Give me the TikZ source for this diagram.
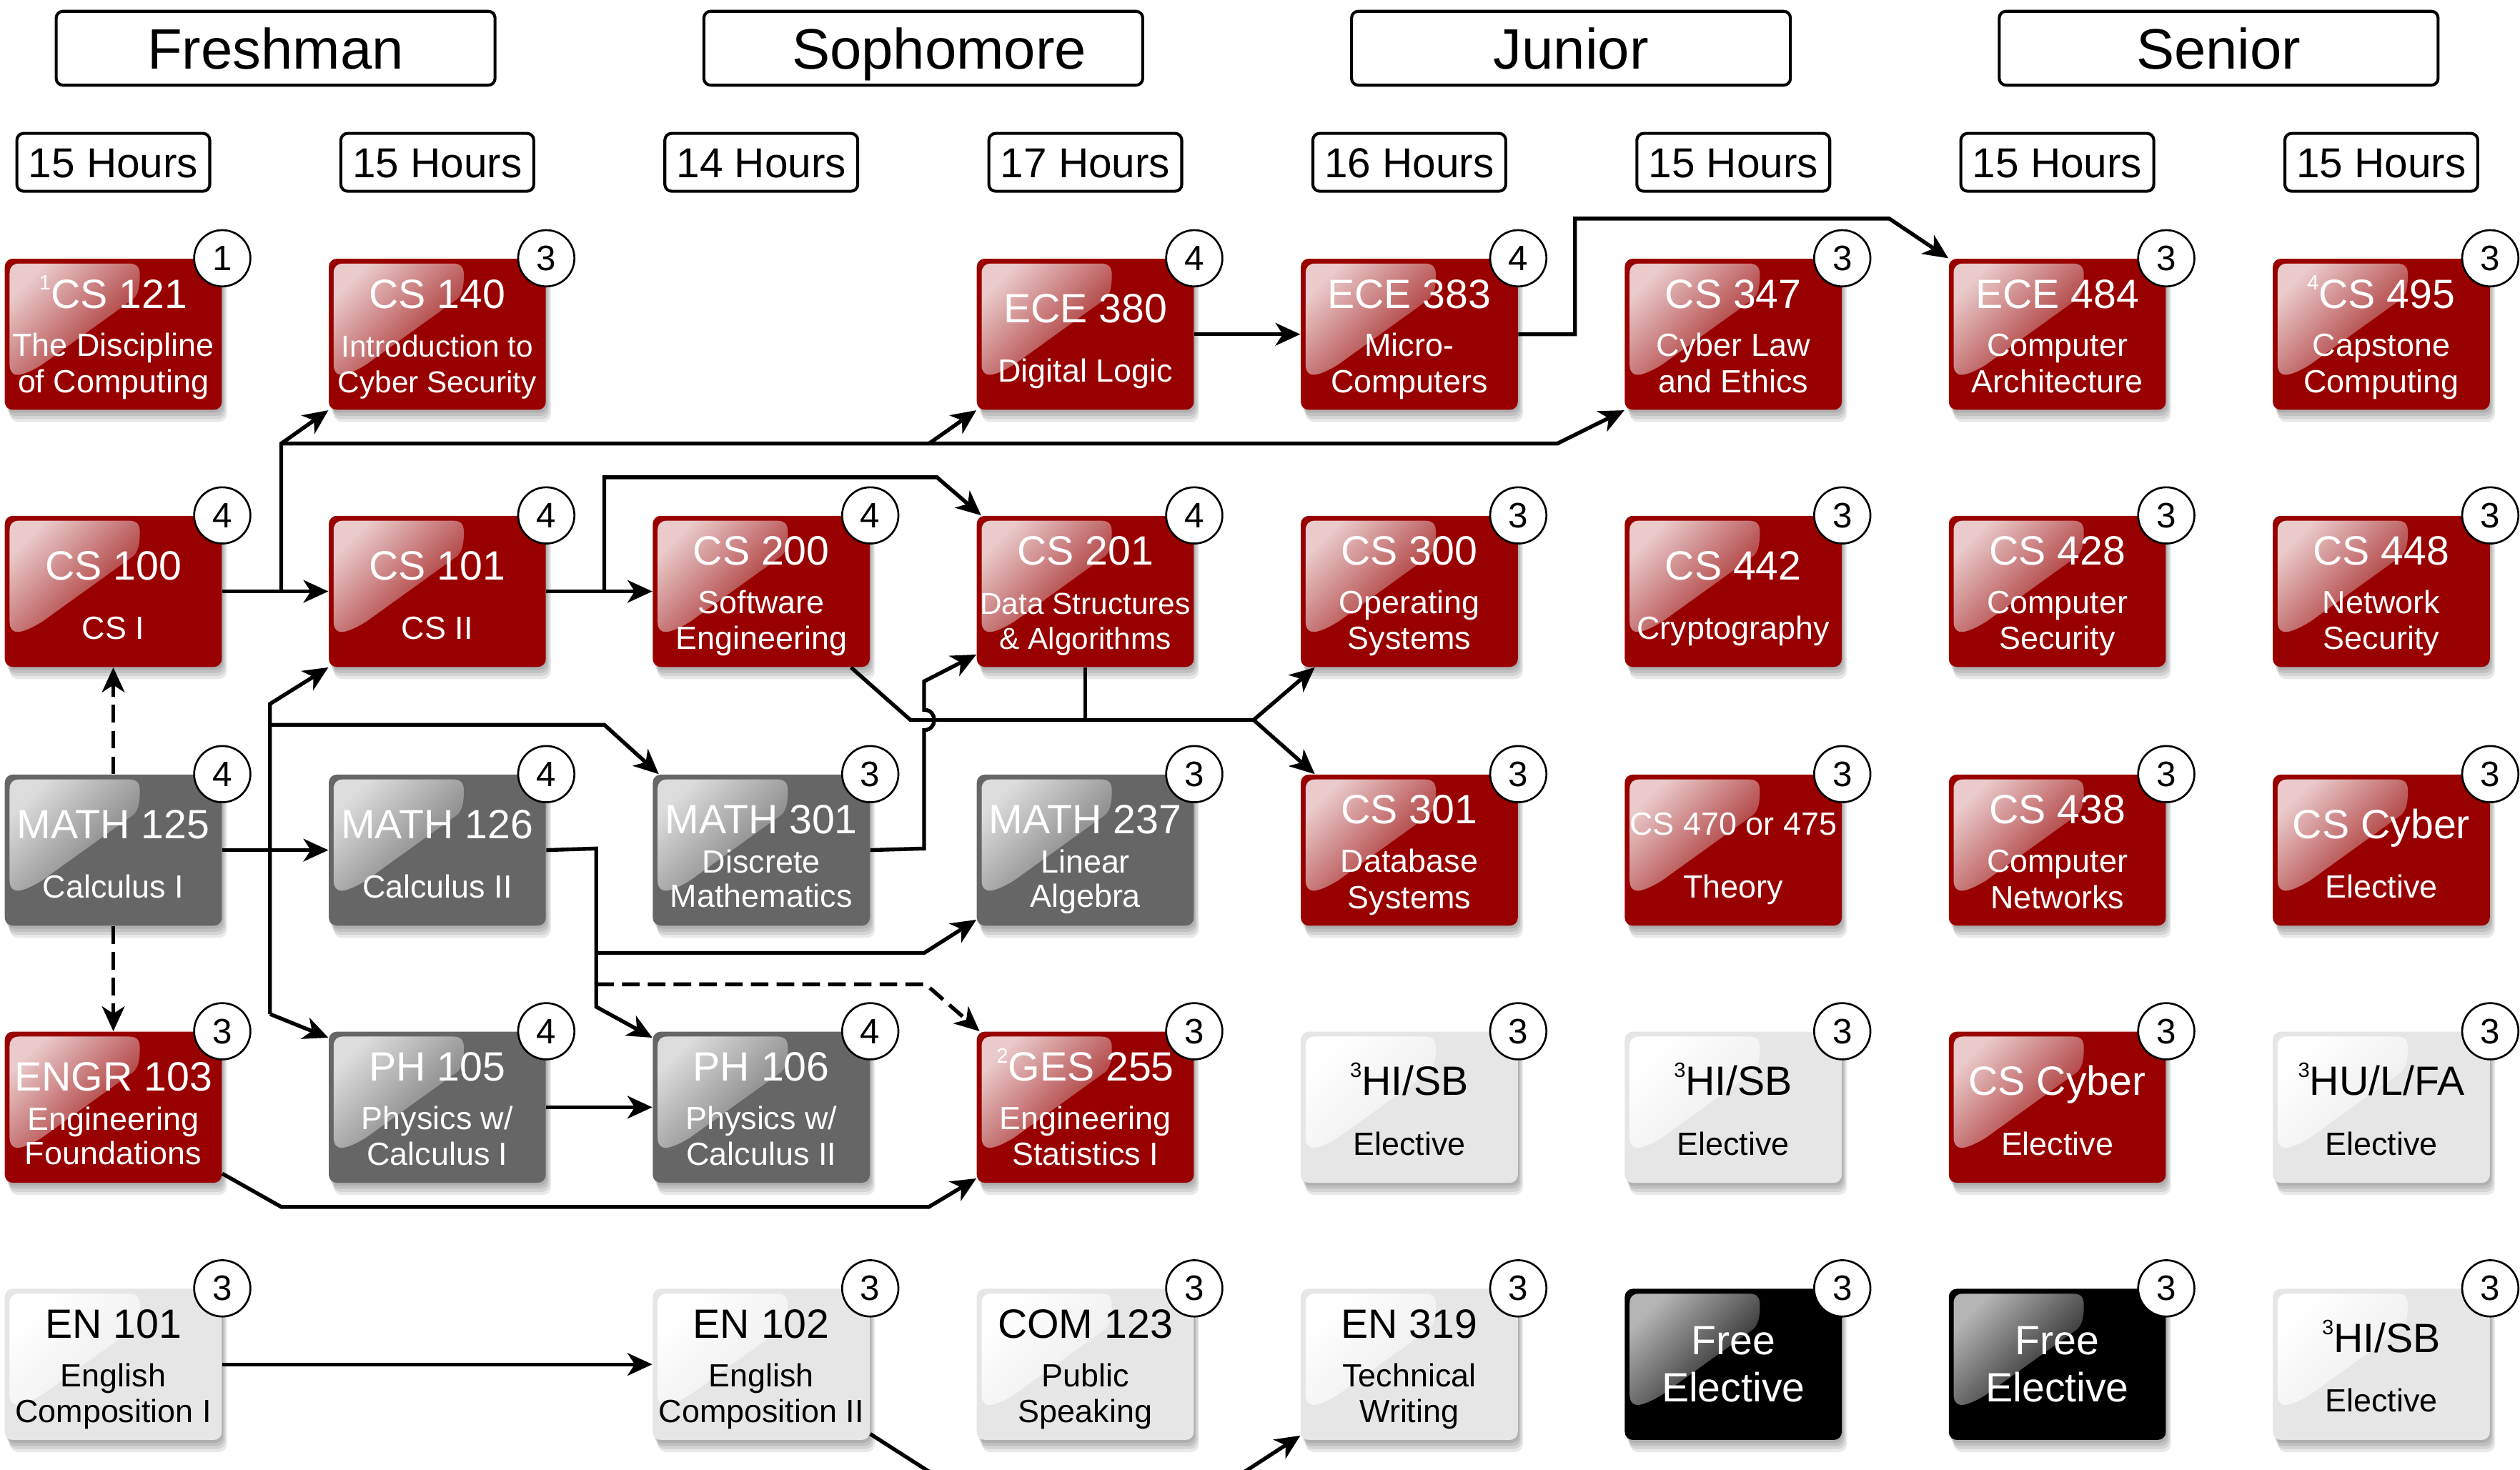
\documentclass[tikz,border=0pt]{standalone}
\usepackage{fontspec}
\setmainfont{Liberation Sans}
\usetikzlibrary{arrows.meta,calc}

\definecolor{baser}{HTML}{990000}\definecolor{hir}{HTML}{EACACA}\definecolor{lor}{HTML}{A01A1A}\definecolor{txtr}{HTML}{FFFFFF}
\definecolor{baseg}{HTML}{666666}\definecolor{hig}{HTML}{DCDCDC}\definecolor{log}{HTML}{727272}\definecolor{txtg}{HTML}{FFFFFF}
\definecolor{basel}{HTML}{E6E6E6}\definecolor{hil}{HTML}{FFFFFF}\definecolor{lol}{HTML}{EBEBEB}\definecolor{txtl}{HTML}{000000}
\definecolor{baseb}{HTML}{000000}\definecolor{hib}{HTML}{B4B4B4}\definecolor{lob}{HTML}{141414}\definecolor{txtb}{HTML}{FFFFFF}

\newcommand\sups[1]{\raisebox{0.45em}{\fontsize{9.2}{9}\selectfont #1}}

\tikzset{
  x=0.025cm, y=-0.025cm,
  hdr/.style={draw, line width=1.3pt, rounded corners=3pt, fill=white, minimum width=6.825cm, minimum height=1.15cm, inner sep=0pt, text height=18.2pt, text depth=0pt, font=\fontsize{25.2}{30}\selectfont},
  hrs/.style={draw, line width=1.3pt, rounded corners=3pt, fill=white, minimum width=3cm, minimum height=0.9cm, inner sep=0pt, text height=13.3pt, text depth=0pt, font=\fontsize{18.5}{22}\selectfont},
  cbox/.style={rectangle, rounded corners=3.5pt, minimum width=3.375cm, minimum height=2.35cm, inner sep=0pt},
  credit/.style={circle, draw, line width=0.85pt, fill=white, minimum size=0.875cm, inner sep=0pt, font=\fontsize{15.6}{16}\selectfont},
  codef/.style={anchor=base, inner sep=0pt, font=\fontsize{18.1}{20}\selectfont},
  subf/.style={anchor=base, inner sep=0pt, font=\fontsize{14.2}{16}\selectfont},
  subs/.style={anchor=base, inner sep=0pt, font=\fontsize{13.4}{15}\selectfont},
  plain/.style={line width=1.7pt, line join=miter},
  conn/.style={plain, -{Stealth[length=11pt,width=10pt,inset=3.2pt]}},
  dconn/.style={conn, dash pattern=on 7.8pt off 3.6pt},
}

\newcommand\course[6]{%
  \def\cur{#1}\def\tcol{txt#4}%
  \foreach \k in {1,2,3,4}{\fill[black,opacity=0.085,rounded corners=3.5pt] (#2+0.8*\k,#3+1.9*\k) rectangle ++(135,94);}%
  \node[cbox,fill=base#4] (#1) at (#2+67.5,#3+47) {};%
  \begin{scope}[shift={(#2,#3)}]
    \shade[top color=hi#4,bottom color=lo#4,shading angle=45] (3,9) -- (3,66) .. controls (3,71) and (6,73) .. (10,72) .. controls (14,71) and (18,69) .. (23,66) -- (80,25) .. controls (83,22) and (84,18) .. (84,10) .. controls (84,5) and (82,3) .. (77,3) -- (9,3) .. controls (5,3) and (3,5) .. (3,9) -- cycle;
  \end{scope}
  #6%
  \node[credit] (#1-n) at (#1.north east) {#5};%
}
% 3 lines standard
\newcommand\tthree[3]{%
  \node[codef,text=\tcol] (\cur-c) at ($(\cur.north)+(0,31)$) {#1};
  \node[subf,text=\tcol] (\cur-a) at ($(\cur.north)+(0,61)$) {#2};
  \node[subf,text=\tcol] (\cur-b) at ($(\cur.north)+(0,83.5)$) {#3};}
% 3 lines, smaller subtitle
\newcommand\tthreeS[3]{%
  \node[codef,text=\tcol] (\cur-c) at ($(\cur.north)+(0,31)$) {#1};
  \node[subs,text=\tcol] (\cur-a) at ($(\cur.north)+(0,61.5)$) {#2};
  \node[subs,text=\tcol] (\cur-b) at ($(\cur.north)+(0,83.5)$) {#3};}
% 3 lines, code lower
\newcommand\tthreec[3]{%
  \node[codef,text=\tcol] (\cur-c) at ($(\cur.north)+(0,37)$) {#1};
  \node[subf,text=\tcol] (\cur-a) at ($(\cur.north)+(0,61.5)$) {#2};
  \node[subf,text=\tcol] (\cur-b) at ($(\cur.north)+(0,83)$) {#3};}
% 2 lines
\newcommand\ttwo[2]{%
  \node[codef,text=\tcol] (\cur-c) at ($(\cur.north)+(0,40)$) {#1};
  \node[subf,text=\tcol] (\cur-a) at ($(\cur.north)+(0,77)$) {#2};}
% 2 lines, small code
\newcommand\ttwos[2]{%
  \node[subf,text=\tcol] (\cur-c) at ($(\cur.north)+(0,38)$) {#1};
  \node[subf,text=\tcol] (\cur-a) at ($(\cur.north)+(0,77)$) {#2};}
% two big lines
\newcommand\tbig[2]{%
  \node[codef,text=\tcol] (\cur-c) at ($(\cur.north)+(0,41)$) {#1};
  \node[codef,text=\tcol] (\cur-a) at ($(\cur.north)+(0,70.5)$) {#2};}

\begin{document}
\begin{tikzpicture}
\useasboundingbox (0,0) rectangle (1568,914.7);
\fill[white] (0,0) rectangle (1568,914.7);

% headers
\node[hdr] (fr) at (171.5,30) {Freshman};
\node[hdr] (so) at (574.5,30) {\hspace*{14pt}Sophomore};
\node[hdr] (ju) at (977.5,30) {Junior};
\node[hdr] (se) at (1380.5,30) {Senior};

\node[hrs] (h1) at (70.5,101) {15 Hours};
\node[hrs] (h2) at (272.1,101) {15 Hours};
\node[hrs] (h3) at (473.7,101) {14 Hours};
\node[hrs] (h4) at (675.3,101) {17 Hours};
\node[hrs] (h5) at (876.9,101) {16 Hours};
\node[hrs] (h6) at (1078.5,101) {15 Hours};
\node[hrs] (h7) at (1280.1,101) {15 Hours};
\node[hrs] (h8) at (1481.7,101) {15 Hours};

% row 1
\course{cs121}{3}{161}{r}{1}{\tthree{\sups{1}CS 121}{The Discipline}{of Computing}}
\course{cs140}{204.6}{161}{r}{3}{\tthreeS{CS 140}{Introduction to}{Cyber Security}}
\course{ece380}{607.8}{161}{r}{4}{\ttwo{ECE 380}{Digital Logic}}
\course{ece383}{809.4}{161}{r}{4}{\tthree{ECE 383}{Micro-}{Computers}}
\course{cs347}{1011}{161}{r}{3}{\tthree{CS 347}{Cyber Law}{and Ethics}}
\course{ece484}{1212.6}{161}{r}{3}{\tthree{ECE 484}{Computer}{Architecture}}
\course{cs495}{1414.2}{161}{r}{3}{\tthree{\sups{4}CS 495}{Capstone}{Computing}}
% row 2
\course{cs100}{3}{321}{r}{4}{\ttwo{CS 100}{CS I}}
\course{cs101}{204.6}{321}{r}{4}{\ttwo{CS 101}{CS II}}
\course{cs200}{406.2}{321}{r}{4}{\tthree{CS 200}{Software}{Engineering}}
\course{cs201}{607.8}{321}{r}{4}{\tthreeS{CS 201}{Data Structures}{\& Algorithms}}
\course{cs300}{809.4}{321}{r}{3}{\tthree{CS 300}{Operating}{Systems}}
\course{cs442}{1011}{321}{r}{3}{\ttwo{CS 442}{Cryptography}}
\course{cs428}{1212.6}{321}{r}{3}{\tthree{CS 428}{Computer}{Security}}
\course{cs448}{1414.2}{321}{r}{3}{\tthree{CS 448}{Network}{Security}}
% row 3
\course{math125}{3}{482}{g}{4}{\ttwo{MATH 125}{Calculus I}}
\course{math126}{204.6}{482}{g}{4}{\ttwo{MATH 126}{Calculus II}}
\course{math301}{406.2}{482}{g}{3}{\tthreec{MATH 301}{Discrete}{Mathematics}}
\course{math237}{607.8}{482}{g}{3}{\tthreec{MATH 237}{Linear}{Algebra}}
\course{cs301}{809.4}{482}{r}{3}{\tthree{CS 301}{Database}{Systems}}
\course{cs470}{1011}{482}{r}{3}{\ttwos{CS 470 or 475}{Theory}}
\course{cs438}{1212.6}{482}{r}{3}{\tthree{CS 438}{Computer}{Networks}}
\course{cyb1}{1414.2}{482}{r}{3}{\ttwo{CS Cyber}{Elective}}
% row 4
\course{engr103}{3}{642}{r}{3}{\tthreec{ENGR 103}{Engineering}{Foundations}}
\course{ph105}{204.6}{642}{g}{4}{\tthree{PH 105}{Physics w/}{Calculus I}}
\course{ph106}{406.2}{642}{g}{4}{\tthree{PH 106}{Physics w/}{Calculus II}}
\course{ges255}{607.8}{642}{r}{3}{\tthree{\sups{2}GES 255}{Engineering}{Statistics I}}
\course{hisb1}{809.4}{642}{l}{3}{\ttwo{\sups{3}HI/SB}{Elective}}
\course{hisb2}{1011}{642}{l}{3}{\ttwo{\sups{3}HI/SB}{Elective}}
\course{cyb2}{1212.6}{642}{r}{3}{\ttwo{CS Cyber}{Elective}}
\course{hulfa}{1414.2}{642}{l}{3}{\ttwo{\sups{3}HU/L/FA}{Elective}}
% row 5
\course{en101}{3}{802}{l}{3}{\tthree{EN 101}{English}{Composition I}}
\course{en102}{406.2}{802}{l}{3}{\tthree{EN 102}{English}{Composition II}}
\course{com123}{607.8}{802}{l}{3}{\tthree{COM 123}{Public}{Speaking}}
\course{en319}{809.4}{802}{l}{3}{\tthree{EN 319}{Technical}{Writing}}
\course{free1}{1011}{802}{b}{3}{\tbig{Free}{Elective}}
\course{free2}{1212.6}{802}{b}{3}{\tbig{Free}{Elective}}
\course{hisb3}{1414.2}{802}{l}{3}{\ttwo{\sups{3}HI/SB}{Elective}}

% connectors
\begin{scope}
\clip (0,0) rectangle (1568,914.7);
\coordinate (a1) at (175,368);
\coordinate (a2) at (175,276);
\coordinate (a3) at (969,276);
\coordinate (a4) at (578,276);
\draw[conn] (cs100.east) -- (cs101.west);
\draw[conn] (a1) -- (a2) -- (cs140.south west);
\draw[conn] (a2) -- (a3) -- (cs347.south west);
\draw[conn] (a4) -- (ece380.south west);

\coordinate (b1) at (376,368);
\coordinate (b2) at (376,297);
\coordinate (b3) at (583,297);
\draw[conn] (cs101.east) -- (cs200.west);
\draw[conn] (b1) -- (b2) -- (b3) -- ($(cs201.north west)+(3,0)$);

\coordinate (c1) at (566.5,448);
\coordinate (c2) at (780,448);
\draw[plain] ($(cs200.south east)+(-12,0)$) -- (c1) -- (c2);
\draw[conn] (c2) -- ($(cs300.south west)+(9,0)$);
\draw[conn] (c2) -- ($(cs301.north west)+(9,0)$);
\draw[plain] (cs201.south) -- (cs201.south |- c1);

\coordinate (d1) at (575,528);
\coordinate (d2) at (575,454.3);
\coordinate (d3) at (575,441.7);
\coordinate (d4) at (575,424);
\draw[conn] (math301.east) -- (d1) -- (d2) .. controls (583.4,454.3) and (583.4,441.7) .. (d3) -- (d4) -- ($(cs201.south west)+(0,-8)$);

\coordinate (e1) at (168,438);
\coordinate (e2) at (168,631);
\coordinate (e3) at (168,451);
\coordinate (e4) at (376,451);
\draw[conn] (math125.east) -- (math126.west);
\draw[conn] (e2) -- (e1) -- (cs101.south west);
\draw[conn] (e2) -- ($(ph105.north west)+(0,4)$);
\draw[conn] (e3) -- (e4) -- ($(math301.north west)+(4,0)$);

\coordinate (f1) at (371,528);
\coordinate (f2) at (371,626.5);
\coordinate (f3) at (371,593);
\coordinate (f4) at (575,593);
\coordinate (f5) at (371,612.5);
\coordinate (f6) at (576,612.5);
\draw[conn] (math126.east) -- (f1) -- (f2) -- ($(ph106.north west)+(0,4)$);
\draw[conn] (f3) -- (f4) -- ($(math237.south west)+(0,-4)$);
\draw[dconn] (f5) -- (f6) -- ($(ges255.north west)+(2,0)$);

\coordinate (g1) at (175,751);
\coordinate (g2) at (578,751);
\draw[conn] ($(engr103.south east)+(0,-6)$) -- (g1) -- (g2) -- ($(ges255.south west)+(0,-3)$);

\draw[conn] (ph105.east) -- (ph106.west);
\draw[conn] (en101.east) -- (en102.west);

\coordinate (k1) at (605,933);
\coordinate (k2) at (748,933);
\draw[conn] ($(en102.south east)+(0,-4)$) -- (k1) -- (k2) -- ($(en319.south west)+(0,-3)$);

\coordinate (i1) at (980,208);
\coordinate (i2) at (980,136);
\coordinate (i3) at (1175.5,136);
\draw[conn] (ece380.east) -- (ece383.west);
\draw[conn] (ece383.east) -- (i1) -- (i2) -- (i3) -- (ece484.north west);

\draw[dconn] (math125.north) -- (cs100.south);
\draw[dconn] (math125.south) -- (engr103.north);
\end{scope}
\end{tikzpicture}
\end{document}
